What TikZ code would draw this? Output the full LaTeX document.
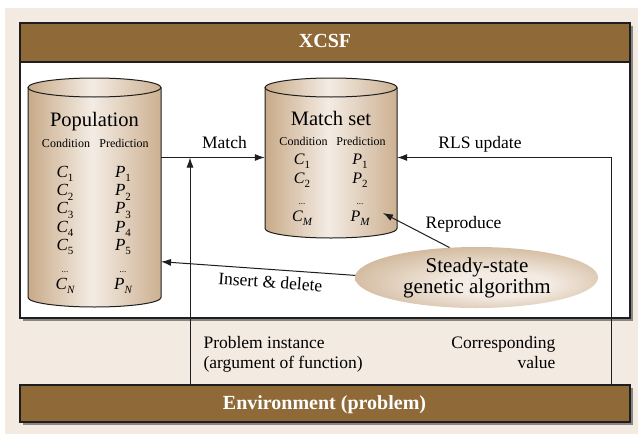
\documentclass[tikz,border=0pt]{standalone}
\usepackage{fontspec}
\setmainfont{Liberation Serif}
\usetikzlibrary{arrows.meta,shadows,shapes.geometric}

\definecolor{cream}{RGB}{243,234,225}
\definecolor{barbrown}{RGB}{143,106,56}
\definecolor{tanD}{RGB}{200,170,136}
\definecolor{tanL}{RGB}{244,236,228}
\definecolor{inkline}{RGB}{30,30,30}

% soft tan shading for the data stores and the GA ellipse
\pgfdeclarehorizontalshading{cylfill}{100bp}{color(0bp)=(tanD); color(25bp)=(tanD); color(49bp)=(tanL); color(75bp)=(tanD!90!tanL); color(100bp)=(tanD!90!tanL)}
\pgfdeclareradialshading{gafill}{\pgfpoint{6bp}{-7bp}}{color(0bp)=(tanL); color(10bp)=(tanL); color(35bp)=(tanD); color(50bp)=(tanD)}

\newcommand{\sbs}[1]{\raisebox{-0.25em}{\fontsize{11}{11}\selectfont #1}}

\tikzset{
  frame/.style={draw=inkline, line width=1.2pt, inner sep=0pt},
  shadowed/.style={drop shadow={shadow xshift=3pt, shadow yshift=-3pt, fill=black!60, opacity=0.75}},
  bar/.style={frame, fill=barbrown},
  bartext/.style={anchor=base, text=white, font=\fontsize{20}{20}\selectfont\bfseries},
  cylline/.style={draw=inkline, line width=1pt},
  conn/.style={draw=inkline, line width=1pt, -{Latex[length=10pt,width=7pt]}},
  title/.style={anchor=base, font=\fontsize{20.5}{20.5}\selectfont},
  colhead/.style={anchor=base, font=\fontsize{12}{12}\selectfont},
  entry/.style={anchor=base, font=\fontsize{17}{17}\selectfont\itshape},
  mentry/.style={anchor=base, font=\fontsize{16}{16}\selectfont\itshape},
  dotsrow/.style={anchor=base, font=\fontsize{9}{9}\selectfont},
  lbl/.style={anchor=base, font=\fontsize{17.5}{17.5}\selectfont},
}

\begin{document}
\begin{tikzpicture}
\useasboundingbox (0,0) rectangle (638pt,-434pt);
\fill[cream] (5pt,-8pt) rectangle (638pt,-434pt);

\begin{scope}[x=1pt,y=1pt]
% ---- XCSF frame with title bar ----
\node[frame, shadowed, fill=white, minimum width=610, minimum height=295] (xcsf) at (325,-170.5) {};
\node[bar, minimum width=610, minimum height=39] (hdr) at (325,-42.5) {};
\node[bartext] (hdrtext) at (325,-47) {XCSF};

% ---- Environment bar ----
\node[bar, shadowed, minimum width=610, minimum height=37] (env) at (325,-403.5) {};
\node[bartext] (envtext) at (324.5,-409) {Environment (problem)};

% ---- Population store ----
\shade[shading=cylfill] (28,-87.5) -- (28,-297.5)
  arc[start angle=180, end angle=360, x radius=66.5, y radius=9.5]
  -- (161,-87.5) arc[start angle=0, end angle=180, x radius=66.5, y radius=9.5] -- cycle;
\draw[cylline] (28,-87.5) -- (28,-297.5)
  arc[start angle=180, end angle=360, x radius=66.5, y radius=9.5] -- (161,-87.5);
\draw[cylline] (94.5,-87.5) ellipse[x radius=66.5, y radius=9.5];
\node[inner sep=0, minimum width=133, minimum height=229] (pop) at (94.5,-192.5) {};

\node[title] (poptitle) at (94.5,-126) {Population};
\node[colhead] (popcond) at (66,-147.7) {Condition};
\node[colhead] (poppred) at (124,-147.7) {Prediction};
\foreach \i/\y in {1/177.7, 2/195.8, 3/213.9, 4/232, 5/250.1} {
  \node[entry] (pc\i) at (65,-\y) {C\sbs{\upshape\i}};
  \node[entry] (pp\i) at (123,-\y) {P\sbs{\upshape\i}};
}
\node[dotsrow] (pcdots) at (65,-272) {...};
\node[dotsrow] (ppdots) at (123,-272) {...};
\node[entry] (pcN) at (65,-289.3) {C\sbs{N}};
\node[entry] (ppN) at (123,-289.3) {P\sbs{N}};

% ---- Match set store ----
\shade[shading=cylfill] (265,-87.5) -- (265,-228.5)
  arc[start angle=180, end angle=360, x radius=66, y radius=9.5]
  -- (397,-87.5) arc[start angle=0, end angle=180, x radius=66, y radius=9.5] -- cycle;
\draw[cylline] (265,-87.5) -- (265,-228.5)
  arc[start angle=180, end angle=360, x radius=66, y radius=9.5] -- (397,-87.5);
\draw[cylline] (331,-87.5) ellipse[x radius=66, y radius=9.5];
\node[inner sep=0, minimum width=132, minimum height=160] (match) at (331,-157.5) {};

\node[title] (mtitle) at (331,-125) {Match set};
\node[colhead] (mcond) at (303.5,-145) {Condition};
\node[colhead] (mpred) at (361,-145) {Prediction};
\node[mentry] (mc1) at (302,-164.3) {C\sbs{\upshape 1}};
\node[mentry] (mp1) at (360,-164.3) {P\sbs{\upshape 1}};
\node[mentry] (mc2) at (302,-183.3) {C\sbs{\upshape 2}};
\node[mentry] (mp2) at (360,-183.3) {P\sbs{\upshape 2}};
\node[dotsrow] (mcdots) at (302,-204) {...};
\node[dotsrow] (mpdots) at (360,-204) {...};
\node[mentry] (mcM) at (302,-221) {C\sbs{M}};
\node[mentry] (mpM) at (360,-221) {P\sbs{M}};

% ---- Steady-state GA ----
\node[ellipse, shade, shading=gafill, inner sep=0, minimum width=243, minimum height=61] (ga) at (476.5,-277.5) {};
\node[anchor=base, align=center, font=\fontsize{21}{21}\selectfont] (gatext1) at (477,-272) {Steady-state};
\node[anchor=base, align=center, font=\fontsize{21}{21}\selectfont] (gatext2) at (477,-293) {genetic algorithm};

% ---- connector end points ----
\coordinate (probfoot) at (190,-385);
\coordinate (matchjoin) at (190,-157.5);
\coordinate (rlsfoot) at (611,-385);
\coordinate (reptip) at (383,-213);
\coordinate (instip) at (161,-261.7);

% ---- connectors ----
\draw[conn] (pop.east |- match.west) -- (match.west);
\draw[conn] (probfoot) -- (matchjoin);
\draw[conn] (rlsfoot) |- (match.east);
\draw[conn] (ga.132) -- (reptip);
\draw[conn] (ga.179) -- (instip);

% ---- connector labels ----
\node[lbl] (lmatch) at (224.5,-148) {Match};
\node[lbl] (lrls) at (480,-148) {RLS update};
\node[lbl] (lrep) at (463.5,-228) {Reproduce};
\node[lbl, rotate=-4] (lins) at (270,-288) {Insert \& delete};
\node[lbl, anchor=base west] (lprob1) at (200,-348.3) {Problem instance};
\node[lbl, anchor=base west] (lprob2) at (200,-368.5) {(argument of function)};
\node[lbl, anchor=base east] (lval1) at (559,-348.3) {Corresponding};
\node[lbl, anchor=base east] (lval2) at (559,-368.5) {value};
\end{scope}
\end{tikzpicture}
\end{document}
